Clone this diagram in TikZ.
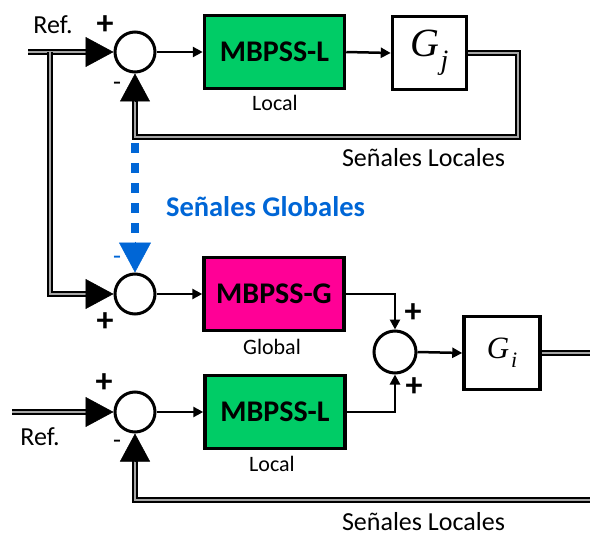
\documentclass[tikz,border=0pt]{standalone}
\usepackage{fontspec}
\setmainfont{Carlito}
\newfontfamily\plantfont{Liberation Serif}
\usetikzlibrary{arrows.meta,calc}

\definecolor{lgreen}{RGB}{0,204,102}
\definecolor{gmag}{RGB}{255,0,150}
\definecolor{gblue}{RGB}{0,102,214}

\tikzset{
  fs/.style={font=\fontsize{#1}{#1}\selectfont},
  sumnode/.style={circle, draw, line width=3pt, minimum size=40pt, inner sep=0pt},
  ctrlbox/.style={draw, line width=3.5pt, minimum width=140pt, minimum height=73pt,
                  inner sep=0pt, font=\fontsize{30}{30}\selectfont\bfseries},
  plantbox/.style={draw, line width=3.5pt, minimum width=74pt, minimum height=73pt,
                   inner sep=0pt, font=\plantfont\itshape},
  sig/.style={line width=2.5pt, -{Triangle[length=10pt,width=10pt]}},
  bus/.style={line width=1.8pt, double=black!35, double distance=2pt},
  bigtip/.style={line width=0.5pt, -{Triangle[length=28pt,width=30pt]}},
  lbl/.style={fs=26, inner sep=0pt},
  sublbl/.style={fs=22, inner sep=0pt},
  sgn/.style={font=\fontsize{34}{34}\selectfont\bfseries, inner sep=0pt},
}

\begin{document}
\begin{tikzpicture}[x=1pt, y=-1pt]
\useasboundingbox (0,0) rectangle (590,535);

% summing junctions
\node[sumnode] (s1) at (135,52) {};
\node[sumnode] (s2) at (135,294) {};
\node[sumnode, minimum size=42pt] (s3) at (395,352) {};
\node[sumnode] (s4) at (135,412) {};

% controllers
\node[ctrlbox, fill=lgreen] (cl1) at (274.5,52) {MBPSS-L};
\node[ctrlbox, fill=gmag] (cg) at (274,294) {MBPSS-G};
\node[ctrlbox, fill=lgreen] (cl2) at (275,412) {MBPSS-L};

% plants
\node[plantbox] (gj) at (429.5,53) {\fontsize{40}{40}\selectfont G\kern1pt\raisebox{-13pt}{\fontsize{28}{28}\selectfont j}};
\node[plantbox, minimum width=76pt] (gi) at (502,353) {\fontsize{31}{31}\selectfont G\kern2pt\raisebox{-9pt}{\fontsize{22}{22}\selectfont i}};

% auxiliary corners
\coordinate (r1) at (28,52);
\coordinate (rj) at (50,52);
\coordinate (rk) at (50,294);
\coordinate (fj1) at (518,53);
\coordinate (fj2) at (518,137);
\coordinate (fj3) at (135,137);
\coordinate (oi) at (590,353);
\coordinate (r3) at (12,412);
\coordinate (fb1) at (590,500);
\coordinate (fb2) at (135,500);
\coordinate (c3a) at (395,294);
\coordinate (c3b) at (395,412);
\coordinate (gs) at (135,143);

% double buses
\draw[bus] (r1) -- ($(s1.west)+(-27,0)$);
\draw[bus] (rj) -- (rk) -- ($(s2.west)+(-27,0)$);
\draw[bus] (gj.east) -- (fj1) -- (fj2) -- (fj3) -- ($(s1.south)+(0,27)$);
\draw[bus] (gi.east) -- (oi);
\draw[bus] (r3) -- ($(s4.west)+(-27,0)$);
\draw[bus] (fb1) -- (fb2) -- ($(s4.south)+(0,27)$);

% large arrow heads at junction inputs
\draw[bigtip] ($(s1.west)+(-28,0)$) -- (s1.west);
\draw[bigtip] ($(s1.south)+(0,28)$) -- (s1.south);
\draw[bigtip] ($(s2.west)+(-28,0)$) -- (s2.west);
\draw[bigtip] ($(s4.west)+(-28,0)$) -- (s4.west);
\draw[bigtip] ($(s4.south)+(0,28)$) -- (s4.south);

% global signal link
\draw[gblue, line width=8pt, dash pattern=on 10pt off 10pt] (gs) -- ($(s2.north)+(0,-32)$);
\draw[gblue, line width=0.5pt, -{Triangle[length=30pt,width=32pt]}] ($(s2.north)+(0,-31)$) -- (s2.north);

% signal paths
\draw[sig] (s1.east) -- (cl1.west);
\draw[sig] (cl1.east) -- (gj.west);
\draw[sig] (s2.east) -- (cg.west);
\draw[sig] (s4.east) -- (cl2.west);
\draw[sig] (cg.east) -- (c3a) -- (s3.north);
\draw[sig] (cl2.east) -- (c3b) -- (s3.south);
\draw[sig] (s3.east) -- (gi.west);

% labels
\node[lbl] (tref1) at (53,25) {Ref.};
\node[lbl] (tref3) at (40,437) {Ref.};
\node[sublbl] (tloc1) at (275,103) {Local};
\node[sublbl] (tglo) at (272,347) {Global};
\node[sublbl] (tloc2) at (272,464) {Local};
\node[lbl] (tsl1) at (423.5,158) {Señales Locales};
\node[lbl, anchor=base] (tsl2) at (423.5,530) {Señales Locales};
\node[inner sep=0pt, text=gblue, font=\fontsize{28.5}{28.5}\selectfont\bfseries] (tsg) at (265.5,207) {Señales Globales};

% signs
\node[sgn] (p1) at (105,25) {+};
\node[lbl] (m1) at (117,86) {-};
\node[lbl, text=gblue] (m2) at (117,260) {-};
\node[sgn] (p2) at (105,322) {+};
\node[sgn] (p3) at (413,313) {+};
\node[sgn] (p4) at (414,387) {+};
\node[sgn] (p5) at (104,383) {+};
\node[lbl] (m4) at (117,444) {-};
\end{tikzpicture}
\end{document}
